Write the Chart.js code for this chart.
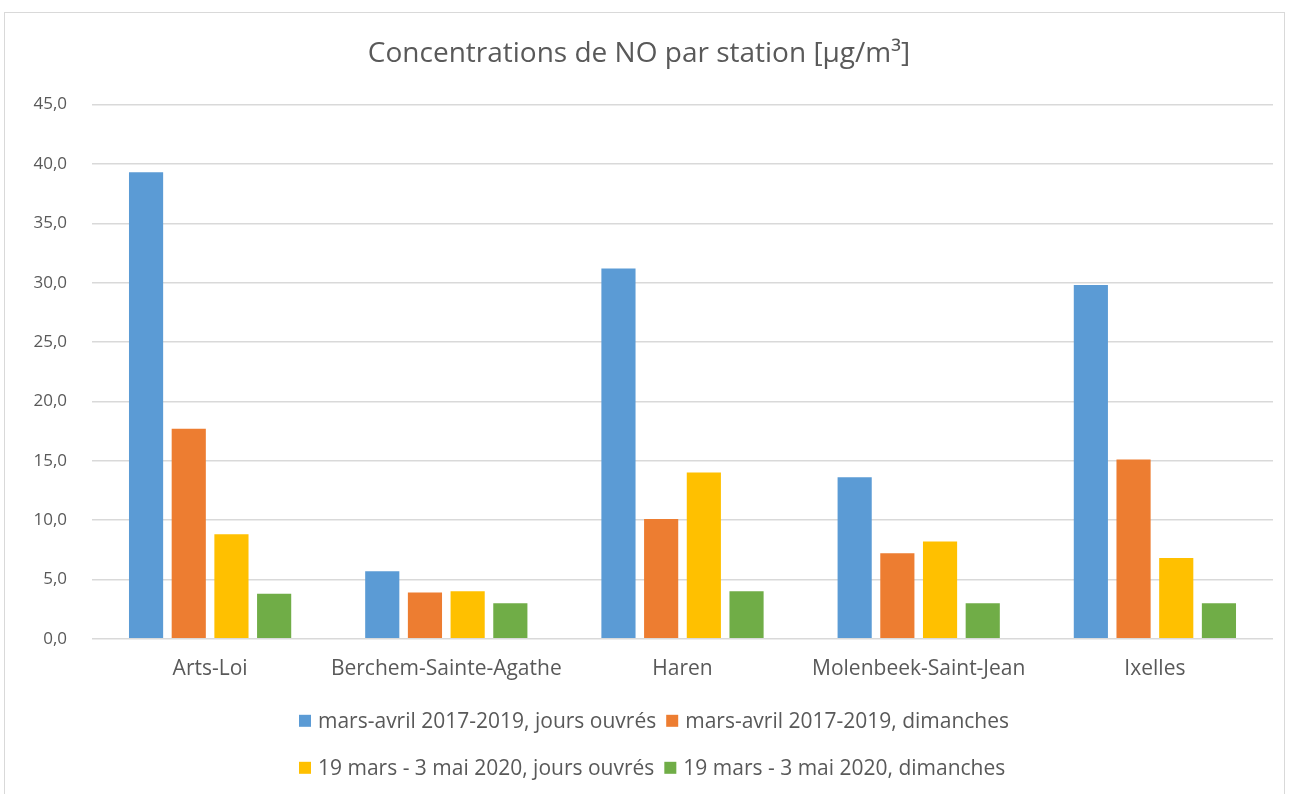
<!DOCTYPE html>
<html lang="fr">
<head>
<meta charset="UTF-8">
<title>Concentrations de NO par station</title>
<script src="https://cdn.jsdelivr.net/npm/chart.js"></script>
<style>
  body { margin: 0; background: #fff; }
  #box { position: absolute; left: 4px; top: 12px; width: 1281px; height: 790px; border: 1px solid #d9d9d9; box-sizing: border-box; }
  canvas { display: block; }
</style>
</head>
<body>
<div id="box"><canvas id="myChart" width="1279" height="788"></canvas></div>
<script>
// stations
const stations = ['Arts-Loi', 'Berchem-Sainte-Agathe', 'Haren', 'Molenbeek-Saint-Jean', 'Ixelles'];

// séries (µg/m³)
const label1 = 'mars-avril 2017-2019, jours ouvrés';
const label2 = 'mars-avril 2017-2019, dimanches';
const label3 = '19 mars - 3 mai 2020, jours ouvrés';
const label4 = '19 mars - 3 mai 2020, dimanches';
const ref_ouvres = [39.3, 5.7, 31.2, 13.6, 29.8];
const ref_dimanches = [17.7, 3.9, 10.1, 7.2, 15.1];
const conf_ouvres = [8.8, 4.0, 14.0, 8.2, 6.8];
const conf_dimanches = [3.8, 3.0, 4.0, 3.0, 3.0];

const colors = ['#5B9BD5', '#ED7D31', '#FFC000', '#70AD47'];
const textColor = '#595959';
const fontFamily = '"Open Sans", sans-serif';

// légende en 2 lignes, comme dans Excel
const legend2rows = {
    id: 'legend2rows',
    afterDraw(chart) {
        const ctx = chart.ctx;
        const area = chart.chartArea;
        const ds = chart.data.datasets;
        ctx.save();
        ctx.font = '21px ' + fontFamily;
        ctx.textBaseline = 'middle';
        const rowsY = [area.bottom + 82, area.bottom + 129];
        [[0, 1], [2, 3]].forEach((row, r) => {
            let x = area.left + 207;
            row.forEach(i => {
                const d = ds[i];
                ctx.fillStyle = d.backgroundColor;
                ctx.fillRect(x, rowsY[r] - 6, 12, 12);
                ctx.fillStyle = textColor;
                ctx.fillText(d.label, x + 19, rowsY[r] + 1);
                x += 19 + ctx.measureText(d.label).width + 10;
            });
        });
        ctx.restore();
    }
};

const ctx = document.getElementById('myChart').getContext('2d');
new Chart(ctx, {
    type: 'bar',
    data: {
        labels: stations,
        datasets: [
            { label: label1, data: ref_ouvres, backgroundColor: colors[0] },
            { label: label2, data: ref_dimanches, backgroundColor: colors[1] },
            { label: label3, data: conf_ouvres, backgroundColor: colors[2] },
            { label: label4, data: conf_dimanches, backgroundColor: colors[3] }
        ]
    },
    options: {
        responsive: false,
        animation: false,
        devicePixelRatio: 1,
        categoryPercentage: 0.723,
        barPercentage: 0.8,
        layout: { padding: { left: 0, right: 11, top: 0, bottom: 109 } },
        plugins: {
            legend: { display: false },
            tooltip: { enabled: false },
            title: {
                display: true,
                text: 'Concentrations de NO par station [µg/m³]',
                color: textColor,
                font: { family: fontFamily, size: 28, weight: 'normal' },
                padding: { top: 24, bottom: 34 }
            }
        },
        scales: {
            x: {
                grid: { display: false },
                border: { display: false },
                ticks: { color: textColor, font: { family: fontFamily, size: 21 }, padding: 10, maxRotation: 0 }
            },
            y: {
                min: 0,
                max: 45,
                afterFit(scale) { scale.width = 87; },
                border: { display: false },
                grid: { color: '#d9d9d9', lineWidth: 1.5, drawTicks: false },
                ticks: {
                    stepSize: 5,
                    color: textColor,
                    padding: 25,
                    font: { family: fontFamily, size: 17 },
                    callback: v => v.toFixed(1).replace('.', ',')
                }
            }
        }
    },
    plugins: [legend2rows]
});
</script>
</body>
</html>
